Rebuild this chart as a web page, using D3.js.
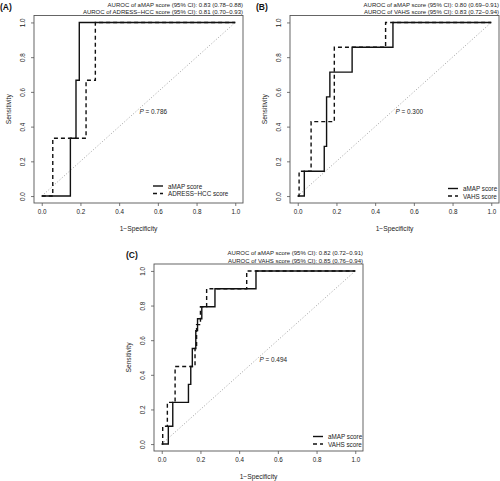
<!DOCTYPE html>
<html><head><meta charset="utf-8">
<script src="https://cdn.jsdelivr.net/npm/d3@7"></script>
<style>
body{margin:0;background:#fff;}
svg{display:block;font-family:"Liberation Sans",Arial,sans-serif;}
</style></head>
<body><svg id="c" width="500" height="481"></svg>
<script>
// ---- data ----
const tickValues = [0, 0.2, 0.4, 0.6, 0.8, 1.0];
const panelLabels = ["(A)", "(B)", "(C)"];
const aurocA = ["AUROC of aMAP score (95% CI): 0.83 (0.78\u22120.88)", "AUROC of ADRESS\u2212HCC score (95% CI): 0.81 (0.70\u22120.93)"];
const aurocB = ["AUROC of aMAP score (95% CI): 0.80 (0.69\u22120.91)", "AUROC of VAHS score (95% CI): 0.83 (0.72\u22120.94)"];
const aurocC = ["AUROC of aMAP score (95% CI): 0.82 (0.72\u22120.91)", "AUROC of VAHS score (95% CI): 0.85 (0.76\u22120.94)"];
const pValues = ["0.786", "0.300", "0.494"];
const legendA = ["aMAP score", "ADRESS\u2212HCC score"];
const legendB = ["aMAP score", "VAHS score"];
const legendC = ["aMAP score", "VAHS score"];

// ROC curves: 1-specificity (x) and sensitivity (y)
const A_aMAP_x = [0, 0.148, 0.148, 0.177, 0.177, 0.194, 0.194, 1];
const A_aMAP_y = [0, 0, 0.333, 0.333, 0.667, 0.667, 1, 1];
const A_adress_x = [0, 0.057, 0.057, 0.229, 0.229, 0.277, 0.277, 1];
const A_adress_y = [0, 0, 0.333, 0.333, 0.667, 0.667, 1, 1];

const B_aMAP_x = [0, 0.034, 0.034, 0.137, 0.137, 0.149, 0.149, 0.166, 0.166, 0.281, 0.281, 0.492, 0.492, 1];
const B_aMAP_y = [0, 0, 0.143, 0.143, 0.286, 0.286, 0.571, 0.571, 0.714, 0.714, 0.857, 0.857, 1, 1];
const B_vahs_x = [0, 0.007, 0.007, 0.069, 0.069, 0.189, 0.189, 0.454, 0.454, 1];
const B_vahs_y = [0, 0, 0.143, 0.143, 0.429, 0.429, 0.857, 0.857, 1, 1];

const C_aMAP_x = [0, 0.034, 0.034, 0.057, 0.057, 0.138, 0.138, 0.150, 0.150, 0.158, 0.158, 0.176, 0.176, 0.185, 0.185, 0.207, 0.207, 0.275, 0.275, 0.487, 0.487, 1];
const C_aMAP_y = [0, 0, 0.103, 0.103, 0.241, 0.241, 0.345, 0.345, 0.448, 0.448, 0.552, 0.552, 0.655, 0.655, 0.724, 0.724, 0.793, 0.793, 0.897, 0.897, 1, 1];
const C_vahs_x = [0, 0.005, 0.005, 0.029, 0.029, 0.069, 0.069, 0.172, 0.172, 0.180, 0.180, 0.200, 0.200, 0.232, 0.232, 0.439, 0.439, 1];
const C_vahs_y = [0, 0, 0.103, 0.103, 0.241, 0.241, 0.448, 0.448, 0.552, 0.552, 0.690, 0.690, 0.793, 0.793, 0.897, 0.897, 1, 1];

// ---- layout ----
const panels = [
  {label: panelLabels[0], labelX: 0, box: {l: 34, r: 243, t: 15.5, b: 203}, auroc: aurocA, p: pValues[0], legend: legendA,
   legX: -75, legY: -17,
   series: [{x: A_aMAP_x, y: A_aMAP_y, dash: null}, {x: A_adress_x, y: A_adress_y, dash: "4,3"}]},
  {label: panelLabels[1], labelX: 256, box: {l: 290, r: 499, t: 15.5, b: 203}, auroc: aurocB, p: pValues[1], legend: legendB,
   legX: -36, legY: -14.5,
   series: [{x: B_aMAP_x, y: B_aMAP_y, dash: null}, {x: B_vahs_x, y: B_vahs_y, dash: "4,3"}]},
  {label: panelLabels[2], labelX: 126, box: {l: 154, r: 363, t: 264, b: 451}, auroc: aurocC, p: pValues[2], legend: legendC,
   legX: -35, legY: -14.5,
   series: [{x: C_aMAP_x, y: C_aMAP_y, dash: null}, {x: C_vahs_x, y: C_vahs_y, dash: "4,3"}]}
];

const svg = d3.select("#c");
const txt = "#222";

panels.forEach(P => {
  const b = P.box;
  const x = d3.scaleLinear().domain([-0.04, 1.04]).range([b.l, b.r]);
  const y = d3.scaleLinear().domain([-0.04, 1.04]).range([b.b, b.t]);
  const g = svg.append("g");

  // box
  g.append("rect").attr("x", b.l).attr("y", b.t).attr("width", b.r - b.l).attr("height", b.b - b.t)
    .attr("fill", "none").attr("stroke", "#555").attr("stroke-width", 0.9);

  // axes
  const xa = g.append("g").attr("transform", `translate(0,${b.b})`)
    .call(d3.axisBottom(x).tickValues(tickValues).tickFormat(d3.format(".1f")).tickSize(3).tickPadding(4));
  xa.select(".domain").remove();
  xa.selectAll("line").attr("stroke", "#555").attr("stroke-width", 0.8);
  xa.selectAll("text").attr("font-size", 6.3).attr("fill", txt).attr("font-family", "Liberation Sans, Arial, sans-serif");

  const ya = g.append("g").attr("transform", `translate(${b.l},0)`)
    .call(d3.axisLeft(y).tickValues(tickValues).tickFormat(d3.format(".1f")).tickSize(3));
  ya.select(".domain").remove();
  ya.selectAll("line").attr("stroke", "#555").attr("stroke-width", 0.8);
  ya.selectAll("text").attr("font-size", 6.3).attr("fill", txt).attr("font-family", "Liberation Sans, Arial, sans-serif")
    .attr("x", 0).attr("dy", null).attr("text-anchor", "middle").attr("dominant-baseline", "central")
    .attr("transform", "translate(-11.5,0) rotate(-90)");

  // axis titles
  g.append("text").attr("x", (x(0) + x(1)) / 2).attr("y", b.b + 25).attr("text-anchor", "middle")
    .attr("dominant-baseline", "central").attr("font-size", 6.7).attr("fill", txt).text("1\u2212Specificity");
  g.append("text").attr("transform", `translate(${b.l - 26},${(y(0) + y(1)) / 2}) rotate(-90)`).attr("text-anchor", "middle")
    .attr("dominant-baseline", "central").attr("font-size", 6.7).attr("fill", txt).text("Sensitivity");

  // panel label
  g.append("text").attr("x", P.labelX).attr("y", b.t - 9).attr("dominant-baseline", "central")
    .attr("font-size", 8.5).attr("font-weight", "bold").attr("fill", "#111").text(P.label);

  // AUROC text
  P.auroc.forEach((t, i) => {
    g.append("text").attr("x", b.r).attr("y", b.t - 11 + i * 7.5).attr("text-anchor", "end")
      .attr("dominant-baseline", "central").attr("font-size", 6).attr("fill", txt).text(t);
  });

  // diagonal
  g.append("line").attr("x1", x(0)).attr("y1", y(0)).attr("x2", x(1)).attr("y2", y(1))
    .attr("stroke", "#888").attr("stroke-width", 0.8).attr("stroke-dasharray", "1,2");

  // P value
  const pt = g.append("text").attr("x", x(0.505)).attr("y", y(0.49)).attr("dominant-baseline", "central")
    .attr("font-size", 6.4).attr("fill", txt);
  pt.append("tspan").attr("font-style", "italic").text("P");
  pt.append("tspan").text(" = " + P.p);

  // curves
  const line = d3.line().x(d => x(d[0])).y(d => y(d[1]));
  P.series.forEach(s => {
    const pts = s.x.map((v, i) => [v, s.y[i]]);
    g.append("path").attr("d", line(pts)).attr("fill", "none").attr("stroke", "#111")
      .attr("stroke-width", 1.4).attr("stroke-dasharray", s.dash);
  });

  // legend (bottom right, no box)
  const tx = b.r + P.legX;
  P.legend.forEach((t, i) => {
    const ly = b.b + P.legY + i * 7.5;
    g.append("text").attr("x", tx).attr("y", ly).attr("dominant-baseline", "central")
      .attr("font-size", 6.3).attr("fill", txt).text(t);
    g.append("line").attr("x1", tx - 15).attr("x2", tx - 5).attr("y1", ly).attr("y2", ly)
      .attr("stroke", "#111").attr("stroke-width", 1.4).attr("stroke-dasharray", P.series[i].dash);
  });
});
</script></body></html>
